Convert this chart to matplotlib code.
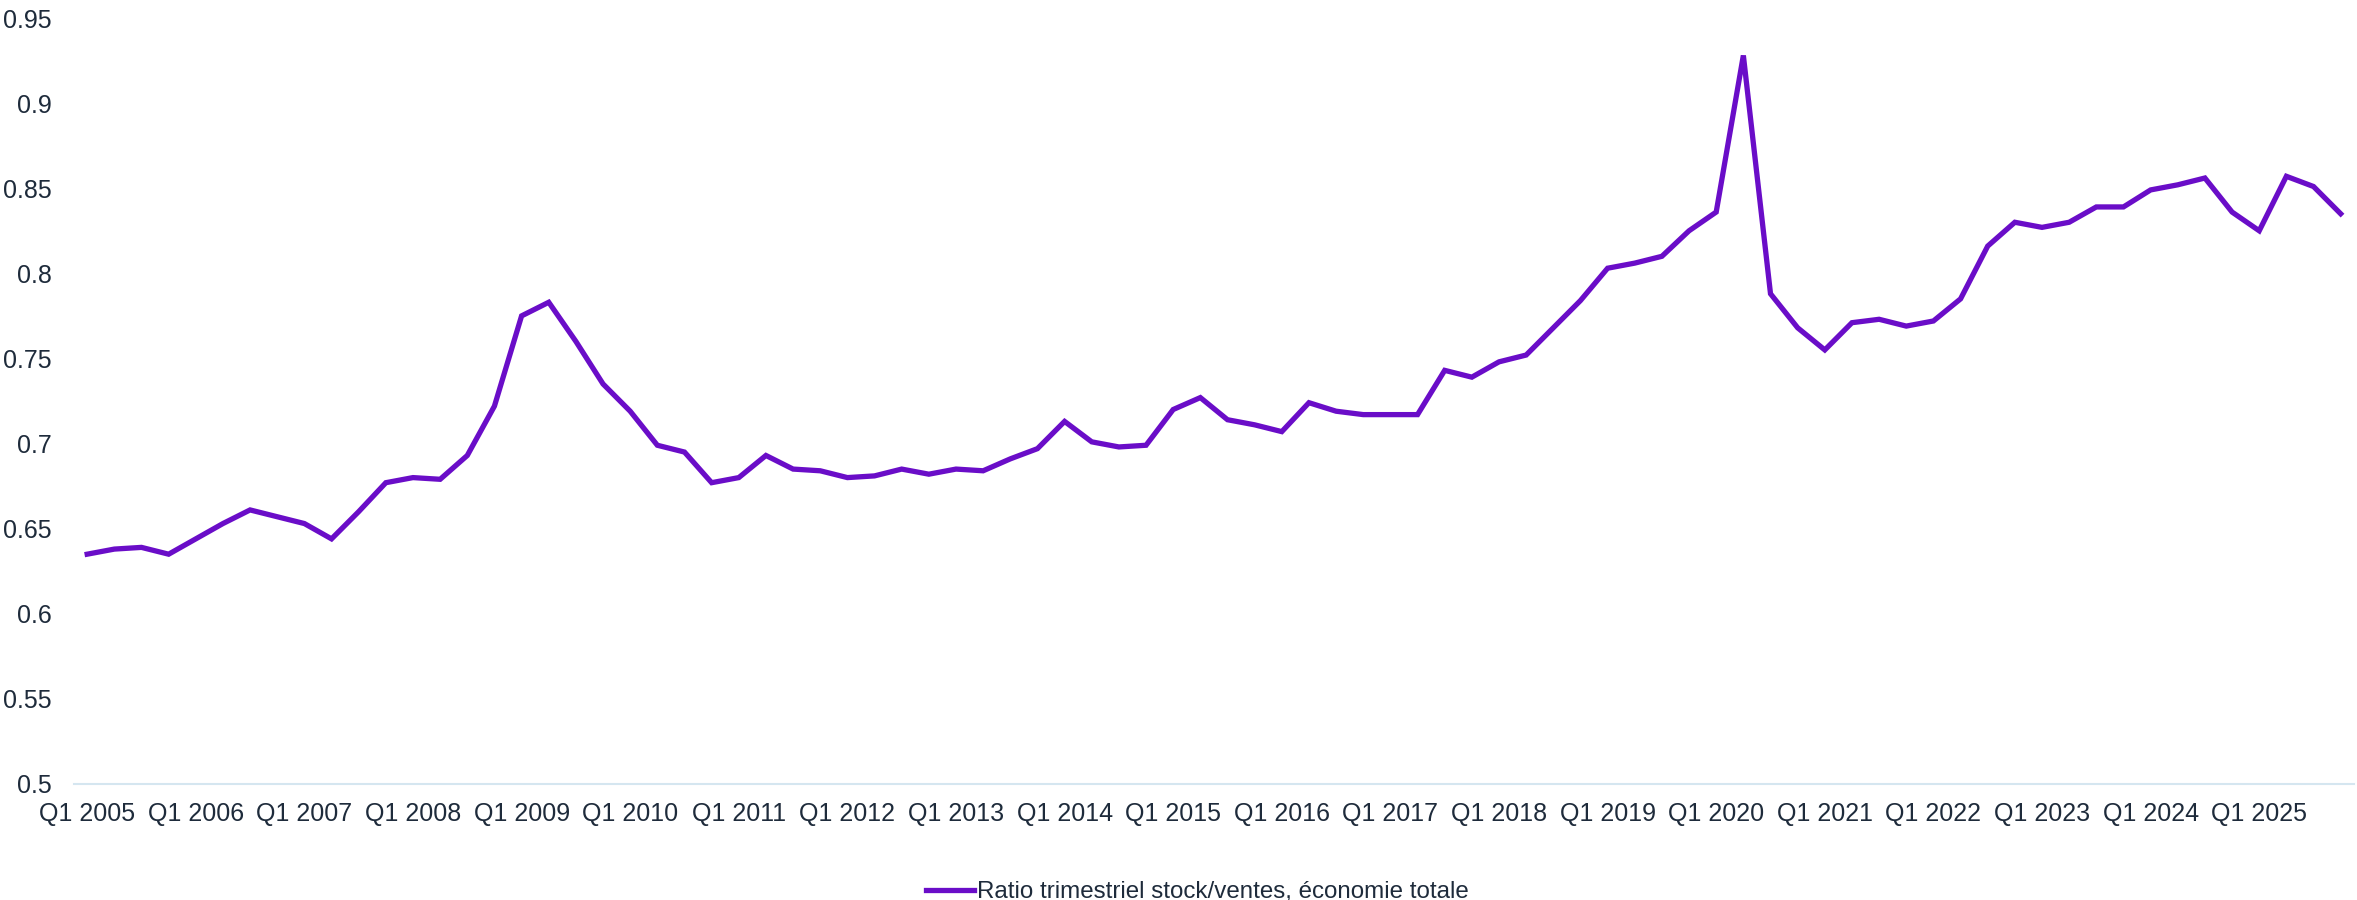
import matplotlib
matplotlib.use("Agg")
import matplotlib.pyplot as plt
import numpy as np

plt.rcParams['font.family'] = ['Liberation Sans', 'DejaVu Sans']

years = list(range(2005, 2026))
quarters = [f"Q{q} {y}" for y in years for q in range(1, 5)]

ratio = [
    0.635, 0.638, 0.639, 0.635, 0.644, 0.653, 0.661, 0.657, 0.653, 0.644,
    0.660, 0.677, 0.680, 0.679, 0.693, 0.722, 0.775, 0.783, 0.760, 0.735,
    0.719, 0.699, 0.695, 0.677, 0.680, 0.693, 0.685, 0.684, 0.680, 0.681,
    0.685, 0.682, 0.685, 0.684, 0.691, 0.697, 0.713, 0.701, 0.698, 0.699,
    0.720, 0.727, 0.714, 0.711, 0.707, 0.724, 0.719, 0.717, 0.717, 0.717,
    0.743, 0.739, 0.748, 0.752, 0.768, 0.784, 0.803, 0.806, 0.810, 0.825,
    0.836, 0.928, 0.788, 0.768, 0.755, 0.771, 0.773, 0.769, 0.772, 0.785,
    0.816, 0.830, 0.827, 0.830, 0.839, 0.839, 0.849, 0.852, 0.856, 0.836,
    0.825, 0.857, 0.851, 0.835,
]

series_label = "Ratio trimestriel stock/ventes, économie totale"
yticks = [0.5, 0.55, 0.6, 0.65, 0.7, 0.75, 0.8, 0.85, 0.9, 0.95]
ytick_labels = ["0.5", "0.55", "0.6", "0.65", "0.7", "0.75", "0.8", "0.85", "0.9", "0.95"]

line_color = "#6A0DC8"
text_color = "#1E2B3B"
axis_color = "#D5E6F0"

fig = plt.figure(figsize=(23.57, 9.0), dpi=100)
ax = fig.add_axes([0.03123, 0.1289, 0.9676, 0.8511])

x = np.arange(len(ratio))
ax.plot(x, ratio, color=line_color, linewidth=3.8, solid_joinstyle='miter',
        label=series_label, zorder=3)

ax.set_xlim(-0.5, len(ratio) - 0.5)
ax.set_ylim(0.5, 0.95)
ax.set_yticks(yticks)
ax.set_yticklabels(ytick_labels)
xt = [i for i, q in enumerate(quarters) if q.startswith("Q1")]
ax.set_xticks(xt)
ax.set_xticklabels([quarters[i] for i in xt])

for s in ['top', 'right', 'left']:
    ax.spines[s].set_visible(False)
ax.spines['bottom'].set_color(axis_color)
ax.spines['bottom'].set_linewidth(1.5)
ax.spines['bottom'].set_zorder(1)

ax.tick_params(axis='both', length=0, labelsize=18, labelcolor=text_color)
ax.tick_params(axis='x', pad=13)
ax.tick_params(axis='y', pad=16)

leg = fig.legend(loc='lower center', bbox_to_anchor=(0.508, -0.028), frameon=False,
                 fontsize=17.4, handlelength=2.0, handletextpad=0.15)
for t in leg.get_texts():
    t.set_color(text_color)

fig.savefig("out.png", dpi=100)
